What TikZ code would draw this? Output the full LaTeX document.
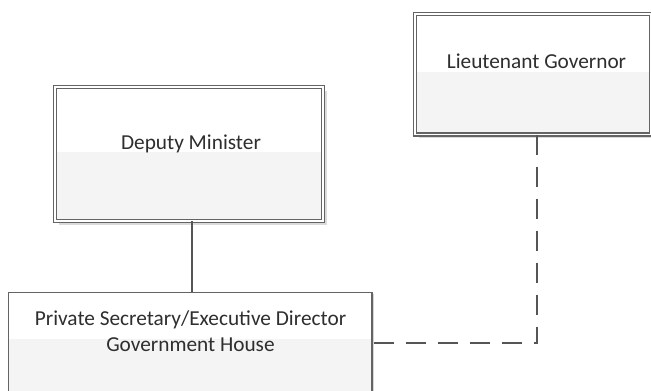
\documentclass[tikz,border=0pt]{standalone}
\usepackage{fontspec}
\setmainfont{Carlito}
\usetikzlibrary{shadows}
\definecolor{edge}{HTML}{646464}
\definecolor{lowerhalf}{HTML}{F4F4F4}
\definecolor{ink}{HTML}{2E2E2E}
\definecolor{wire}{HTML}{555555}
\begin{document}
\begin{tikzpicture}[x=1pt,y=-1pt]
\tikzset{
  split/.store in=\splitshift, split=2pt,
  box/.style={rectangle, inner sep=0pt, outer sep=0pt, fill=white, draw=edge,
    line width=1.6pt,
    drop shadow={shadow xshift=2pt, shadow yshift=-2pt, fill=black!16, opacity=1},
    path picture={\fill[lowerhalf] ([yshift=\splitshift]path picture bounding box.west)
      rectangle (path picture bounding box.south east);}},
  dbox/.style={box, line width=1.7pt, double=white, double distance=1.1pt,
    drop shadow={shadow xshift=3.8pt, shadow yshift=-3.8pt, fill=black!14, opacity=1}},
  lbl/.style={text=ink, font=\fontsize{21.3}{26.7}\selectfont, align=center, inner sep=0pt},
  conn/.style={draw=wire, line width=1.7pt},
  dashconn/.style={draw=wire, line width=2pt, dash pattern=on 20pt off 12pt}
}
\useasboundingbox (0,0) rectangle (651,391);

% boxes
\node[dbox, minimum width=236pt, minimum height=120.5pt] (lg) at (533,74.25) {};
\node[dbox, minimum width=268pt, minimum height=134pt] (dm) at (189,154) {};
\node[box, split=4pt, minimum width=363.4pt, minimum height=101.4pt] (ps) at (190,343) {};

% titles (base anchor sits on the last line)
\node[lbl, anchor=base] (lgt) at (536.5,68.3) {Lieutenant Governor};
\node[lbl, anchor=base] (dmt) at (191,149.3) {Deputy Minister};
\node[lbl, anchor=base] (pst) at (190.5,351.7) {Private Secretary/Executive Director\\Government House};

% reporting lines
\draw[conn] ([xshift=2.7pt]dm.south) -- ([xshift=2.7pt]dm.south |- ps.north);
\draw[dashconn] ([xshift=4pt]lg.south) |- (ps.east);
\end{tikzpicture}
\end{document}
